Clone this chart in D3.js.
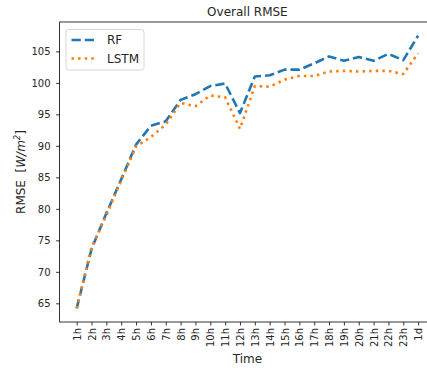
<!DOCTYPE html>
<html>
<head>
<meta charset="utf-8">
<script src="https://cdn.jsdelivr.net/npm/d3@7"></script>
<style>
  html, body { margin: 0; padding: 0; background: #fff; overflow: hidden; }
  svg { display: block; font-family: "DejaVu Sans", sans-serif; }
</style>
</head>
<body>
<svg id="chart" width="427" height="372"></svg>
<script>
// Forecast horizons along the x axis
const horizons = ["1h","2h","3h","4h","5h","6h","7h","8h","9h","10h","11h","12h",
                  "13h","14h","15h","16h","17h","18h","19h","20h","21h","22h","23h","1d"];

// Overall RMSE per horizon, W/m^2
const rfValues   = [64.2, 73.6, 79.3, 84.7, 90.2, 93.2, 93.9, 97.3, 98.2, 99.5, 99.9, 95.2,
                    101.0, 101.2, 102.1, 102.1, 103.1, 104.2, 103.5, 104.1, 103.5, 104.6, 103.6, 107.5];
const lstmValues = [64.2, 73.9, 79.0, 84.5, 89.9, 91.4, 93.4, 96.8, 96.3, 98.0, 97.7, 92.7,
                    99.5, 99.4, 100.5, 101.1, 101.1, 101.8, 101.9, 101.8, 101.9, 101.9, 101.4, 104.7];

const yTicks = [65, 70, 75, 80, 85, 90, 95, 100, 105];

const seriesNames = ["RF", "LSTM"];
const colors = ["#1f77b4", "#ff7f0e"];

const svg = d3.select("#chart");

// Plot frame (the right part runs past the visible area)
const frame = { left: 59.6, right: 435.2, top: 22, bottom: 322 };

const n = horizons.length;
const pad = (n - 1) * 0.05;
const x = d3.scaleLinear().domain([-pad, n - 1 + pad]).range([frame.left, frame.right]);

const all = rfValues.concat(lstmValues);
const yMin = d3.min(all), yMax = d3.max(all);
const yPad = (yMax - yMin) * 0.05;
const y = d3.scaleLinear().domain([yMin - yPad, yMax + yPad]).range([frame.bottom, frame.top]);

// Axes
const xAxis = d3.axisBottom(x)
  .tickValues(d3.range(n))
  .tickFormat(i => horizons[i])
  .tickSize(3.5).tickPadding(3.5);
const gx = svg.append("g").attr("transform", `translate(0,${frame.bottom})`).call(xAxis);
gx.select(".domain").remove();
gx.selectAll(".tick line").attr("stroke", "#000").attr("stroke-width", 0.8);
gx.selectAll(".tick text")
  .attr("font-size", 10).attr("fill", "#262626")
  .attr("font-family", "DejaVu Sans")
  .attr("transform", "rotate(-90)")
  .attr("text-anchor", "end")
  .attr("dy", "0.35em")
  .attr("x", -6).attr("y", 0);

const yAxis = d3.axisLeft(y).tickValues(yTicks).tickFormat(d3.format("d"))
  .tickSize(3.5).tickPadding(5.5);
const gy = svg.append("g").attr("transform", `translate(${frame.left},0)`).call(yAxis);
gy.select(".domain").remove();
gy.selectAll(".tick line").attr("stroke", "#000").attr("stroke-width", 0.8);
gy.selectAll(".tick text").attr("font-size", 10).attr("fill", "#262626")
  .attr("font-family", "DejaVu Sans");

// Spines
svg.append("rect")
  .attr("x", frame.left).attr("y", frame.top)
  .attr("width", frame.right - frame.left).attr("height", frame.bottom - frame.top)
  .attr("fill", "none").attr("stroke", "#000").attr("stroke-width", 0.8);

// Lines
const line = d3.line().x((d, i) => x(i)).y(d => y(d));
const dashes = ["9.25,4", "2.5,4.1"];
[rfValues, lstmValues].forEach((vals, k) => {
  svg.append("path")
    .datum(vals)
    .attr("d", line)
    .attr("fill", "none")
    .attr("stroke", colors[k])
    .attr("stroke-width", 2.6)
    .attr("stroke-dasharray", dashes[k])
    .attr("stroke-linejoin", "round");
});

// Legend
const lg = svg.append("g");
lg.append("rect")
  .attr("x", 66).attr("y", 29.5).attr("width", 78).attr("height", 40.5)
  .attr("rx", 2.5).attr("fill", "#fff").attr("fill-opacity", 0.8)
  .attr("stroke", "#ccc").attr("stroke-width", 0.8);
seriesNames.forEach((name, k) => {
  const cy = 40 + k * 18.5;
  lg.append("line")
    .attr("x1", 71.5).attr("x2", 97.5).attr("y1", cy).attr("y2", cy)
    .attr("stroke", colors[k]).attr("stroke-width", 2.6)
    .attr("stroke-dasharray", dashes[k]);
  lg.append("text")
    .attr("x", 107).attr("y", cy).attr("dy", "0.36em")
    .attr("font-size", 12).attr("fill", "#262626").text(name);
});

// Title
svg.append("text")
  .attr("x", (frame.left + frame.right) / 2).attr("y", 16)
  .attr("text-anchor", "middle").attr("font-size", 12).attr("fill", "#262626")
  .text("Overall RMSE");

// X axis label
svg.append("text")
  .attr("x", (frame.left + frame.right) / 2).attr("y", 363)
  .attr("text-anchor", "middle").attr("font-size", 12).attr("fill", "#262626")
  .text("Time");

// Y axis label with italic unit and superscript
const yl = svg.append("text")
  .attr("transform", `translate(25,${(frame.top + frame.bottom) / 2}) rotate(-90)`)
  .attr("text-anchor", "middle").attr("font-size", 12).attr("fill", "#262626")
  .style("white-space", "pre");
yl.append("tspan").text("RMSE  [");
yl.append("tspan").attr("font-style", "italic").text("W/m");
yl.append("tspan").attr("font-size", 8.5).attr("font-style", "italic").attr("dy", -5).text("2");
yl.append("tspan").attr("dy", 5).text("]");
</script>
</body>
</html>
